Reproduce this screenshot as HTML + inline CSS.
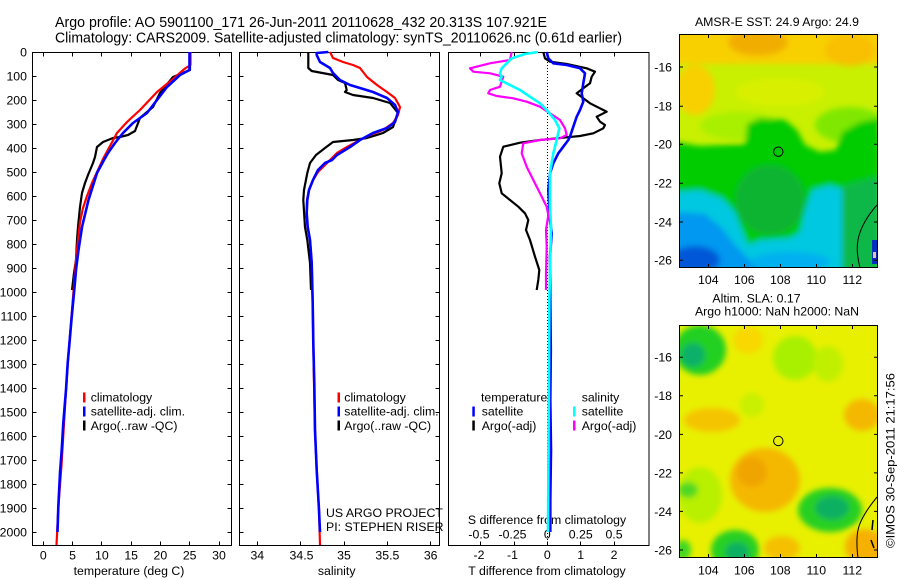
<!DOCTYPE html>
<html><head><meta charset="utf-8"><style>
html,body{margin:0;padding:0;background:#fff;}
svg{display:block;}
text{font-family:"Liberation Sans",Arial,sans-serif;fill:#000;}
</style></head><body>
<svg width="900" height="580" viewBox="0 0 900 580" xmlns="http://www.w3.org/2000/svg">
<defs>
<filter id="bl" x="-20%" y="-20%" width="140%" height="140%"><feGaussianBlur stdDeviation="3"/></filter>
<clipPath id="c1"><rect x="679.5" y="34.5" width="198" height="233"/></clipPath>
<clipPath id="c2"><rect x="679.5" y="325.5" width="198" height="232"/></clipPath>
</defs>
<rect width="900" height="580" fill="#fff"/>

<!-- Titles -->
<text x="55" y="27" font-size="14.5" textLength="492" lengthAdjust="spacingAndGlyphs">Argo profile: AO 5901100_171 26-Jun-2011 20110628_432 20.313S 107.921E</text>
<text x="55" y="42.5" font-size="14.5" textLength="567" lengthAdjust="spacingAndGlyphs">Climatology: CARS2009. Satellite-adjusted climatology: synTS_20110626.nc (0.61d earlier)</text>

<g font-size="12.3">
<!-- Depth labels -->
<g text-anchor="end">
<text x="27" y="56.4">0</text><text x="27" y="80.4">100</text><text x="27" y="104.4">200</text><text x="27" y="128.4">300</text><text x="27" y="152.4">400</text><text x="27" y="176.4">500</text><text x="27" y="200.4">600</text><text x="27" y="224.4">700</text><text x="27" y="248.4">800</text><text x="27" y="272.4">900</text><text x="27" y="296.4">1000</text><text x="27" y="320.4">1100</text><text x="27" y="344.4">1200</text><text x="27" y="368.4">1300</text><text x="27" y="392.4">1400</text><text x="27" y="416.4">1500</text><text x="27" y="440.4">1600</text><text x="27" y="464.4">1700</text><text x="27" y="488.4">1800</text><text x="27" y="512.4">1900</text><text x="27" y="536.4">2000</text>
</g>
<g text-anchor="middle">
<text x="43.3" y="559.5">0</text><text x="72.6" y="559.5">5</text><text x="101.9" y="559.5">10</text><text x="131.2" y="559.5">15</text><text x="160.4" y="559.5">20</text><text x="189.7" y="559.5">25</text><text x="219" y="559.5">30</text>
<text x="129" y="575">temperature (deg C)</text>
<text x="257.3" y="559.5">34</text><text x="301.5" y="559.5">34.5</text><text x="344" y="559.5">35</text><text x="387.4" y="559.5">35.5</text><text x="430.7" y="559.5">36</text>
<text x="336.7" y="575">salinity</text>
<text x="479" y="559">-2</text><text x="512.5" y="559">-1</text><text x="547.3" y="559">0</text><text x="580.7" y="559">1</text><text x="614" y="559">2</text>
<text x="547" y="575">T difference from climatology</text>
<text x="479" y="538.5">-0.5</text><text x="512.5" y="538.5">-0.25</text><text x="547.3" y="538.5">0</text><text x="580.7" y="538.5">0.25</text><text x="614" y="538.5">0.5</text>
<text x="547" y="524">S difference from climatology</text>
</g>
<!-- legends -->
<rect x="83" y="392.5" width="2.5" height="10" fill="#f00"/>
<rect x="83" y="406.5" width="2.5" height="10" fill="#00f"/>
<rect x="83" y="420.5" width="2.5" height="10" fill="#000"/>
<text x="90.7" y="401.5">climatology</text>
<text x="90.7" y="415.7">satellite-adj. clim.</text>
<text x="90.7" y="429.9">Argo(..raw -QC)</text>
<rect x="337.5" y="392.5" width="2.5" height="10" fill="#f00"/>
<rect x="337.5" y="406.5" width="2.5" height="10" fill="#00f"/>
<rect x="337.5" y="420.5" width="2.5" height="10" fill="#000"/>
<text x="344.3" y="401.5">climatology</text>
<text x="344.3" y="415.7">satellite-adj. clim.</text>
<text x="344.3" y="429.9">Argo(..raw -QC)</text>
<text x="326" y="517">US ARGO PROJECT</text>
<text x="326" y="531">PI: STEPHEN RISER</text>
<text x="481" y="401.5">temperature</text>
<text x="581.7" y="401.5">salinity</text>
<rect x="472.3" y="406.5" width="2.5" height="10" fill="#00f"/>
<rect x="472.3" y="420.5" width="2.5" height="10" fill="#000"/>
<text x="481.7" y="415.7">satellite</text>
<text x="481.7" y="429.9">Argo(-adj)</text>
<rect x="573" y="406.5" width="2.5" height="10" fill="#0ff"/>
<rect x="573" y="420.5" width="2.5" height="10" fill="#f0f"/>
<text x="581.7" y="415.7">satellite</text>
<text x="581.7" y="429.9">Argo(-adj)</text>
</g>

<!-- Panel frames & ticks -->
<g fill="none" stroke="#000" stroke-width="1">
<rect x="32.5" y="52.5" width="199" height="493"/>
<rect x="239.5" y="52.5" width="200" height="493"/>
<rect x="448.5" y="52.5" width="200.5" height="493"/>
<path d="M32.5 76.5h4M32.5 100.5h4M32.5 124.5h4M32.5 148.5h4M32.5 172.5h4M32.5 196.5h4M32.5 220.5h4M32.5 244.5h4M32.5 268.5h4M32.5 292.5h4M32.5 316.5h4M32.5 340.5h4M32.5 364.5h4M32.5 388.5h4M32.5 412.5h4M32.5 436.5h4M32.5 460.5h4M32.5 484.5h4M32.5 508.5h4M32.5 532.5h4"/>
<path d="M231.5 76.5h-4M231.5 100.5h-4M231.5 124.5h-4M231.5 148.5h-4M231.5 172.5h-4M231.5 196.5h-4M231.5 220.5h-4M231.5 244.5h-4M231.5 268.5h-4M231.5 292.5h-4M231.5 316.5h-4M231.5 340.5h-4M231.5 364.5h-4M231.5 388.5h-4M231.5 412.5h-4M231.5 436.5h-4M231.5 460.5h-4M231.5 484.5h-4M231.5 508.5h-4M231.5 532.5h-4"/>
<path d="M239.5 76.5h4M239.5 100.5h4M239.5 124.5h4M239.5 148.5h4M239.5 172.5h4M239.5 196.5h4M239.5 220.5h4M239.5 244.5h4M239.5 268.5h4M239.5 292.5h4M239.5 316.5h4M239.5 340.5h4M239.5 364.5h4M239.5 388.5h4M239.5 412.5h4M239.5 436.5h4M239.5 460.5h4M239.5 484.5h4M239.5 508.5h4M239.5 532.5h4"/>
<path d="M439.5 76.5h-4M439.5 100.5h-4M439.5 124.5h-4M439.5 148.5h-4M439.5 172.5h-4M439.5 196.5h-4M439.5 220.5h-4M439.5 244.5h-4M439.5 268.5h-4M439.5 292.5h-4M439.5 316.5h-4M439.5 340.5h-4M439.5 364.5h-4M439.5 388.5h-4M439.5 412.5h-4M439.5 436.5h-4M439.5 460.5h-4M439.5 484.5h-4M439.5 508.5h-4M439.5 532.5h-4"/>
<path d="M43.5 52.5v4M72.5 52.5v4M101.5 52.5v4M131.5 52.5v4M160.5 52.5v4M189.5 52.5v4M219.5 52.5v4M43.5 545.5v-4M72.5 545.5v-4M101.5 545.5v-4M131.5 545.5v-4M160.5 545.5v-4M189.5 545.5v-4M219.5 545.5v-4"/>
<path d="M257.5 52.5v4M300.5 52.5v4M344.5 52.5v4M387.5 52.5v4M430.5 52.5v4M257.5 545.5v-4M300.5 545.5v-4M344.5 545.5v-4M387.5 545.5v-4M430.5 545.5v-4"/>
<path d="M480.5 52.5v4M514.5 52.5v4M547.5 52.5v4M580.5 52.5v4M614.5 52.5v4M480.5 545.5v-4M514.5 545.5v-4M547.5 545.5v-4M580.5 545.5v-4M614.5 545.5v-4"/>
<path d="M547.5 53V545" stroke-dasharray="1,2"/>
</g>

<!-- Panel 1 curves -->
<g fill="none" stroke-width="2.2" stroke-linejoin="round">
<polyline stroke="#000" points="190,52 190,70 173,77 160,93 153,107 147,112 140,118 135,131 128,135 120,137 113,138 103,142 97,147 95,157 93,163 88,175 85,183 82,193 80,207 78,227 77,240 76,260 74,273 72,290"/>
<polyline stroke="#f00" points="190.5,52 190.5,65 185,68.5 173,79 157,92 140,110 127,122 117,133 110,146 104,157 98,170 92,183 87,196 83,208 80,222 78,240 76,260 74,285 72,310 70,335 68,360 66,390 64.5,415 63,440 61.5,465 60,485 58.5,505 57.5,525 56.5,545"/>
<polyline stroke="#00f" stroke-width="2.6" points="189.5,52 189.5,70 180,75 167,87 157,100 147,113 133,123 123,133 115,143 108,153 104,160 97,173 88.5,200 82,227 78.5,250 76,270 74,293 71.7,317 70,337 67.7,363 66,390 65,402 63.3,423 61.7,450 60,473 58.3,507 57.5,532"/>
</g>
<!-- Panel 2 curves -->
<g fill="none" stroke-width="2.2" stroke-linejoin="round">
<polyline stroke="#000" points="308.3,52 308.3,68 311.7,71 333,75 338,80 345,83 346.7,90 345,92 353,95 373,98 390,103 398,113 393,127 383,133 367,138 353,140 333,142 325,148 316,155 310,163 307.3,173 304,190 303.3,200 305,227 307.3,240 310,263 311,290"/>
<polyline stroke="#f00" points="330,52 333,58 343,62 353,65 360,68 367,77 377,85 387,92 395,98 400,107 398,115 393,123 383,130 370,135 360,140 347,147 337,153 330,160 325,165 318,172 313,180 309,190 307,200 306.5,213 307.5,227 310,240 311.7,263 312.7,303 313.3,343 314,383 315,430 316.7,470 319,510 320,545"/>
<polyline stroke="#00f" stroke-width="2.6" points="328.3,52 316.7,53 316.7,55 320,62 330,68 333,73 340,80 350,85 360,88 373,92 387,98 395,105 398,112 395,122 387,128 373,133 360,140 350,147 337,155 332,160 325,163 318,170 313,180 309,190 307.3,200 306.7,213 307.7,227 310,240 311.7,263 312.7,303 313.3,343 314.3,383 315,430 316.7,470 319,510 320,532"/>
</g>
<!-- Panel 3 curves -->
<g fill="none" stroke-width="2.2" stroke-linejoin="round">
<polyline stroke="#000" points="543.3,52 545,58.3 550,61.7 566.7,64 586.7,68.3 595,71.7 591.7,76.7 590,83.3 583.3,88.3 576.7,93.3 583.3,98.3 590,103.3 603.3,110 606.7,111.7 596.7,116.7 600,121.7 605,125 603.3,128.3 593.3,133.3 580,136 566.7,137.3 540,140 520,142.7 503.3,146.7 500,156.7 501.7,173.3 499.3,183.3 501.7,193.3 510,200 518.3,206.7 525,213.3 528.3,220 526,230 530,240 535,256.7 539.3,270 538.3,280 536.7,290"/>
<polyline stroke="#00f" stroke-width="2.6" points="546.7,52 548.3,58.3 553.3,63.3 566.7,65 580,68.3 585,73.3 583.3,83.3 581.7,93.3 583.3,101.7 580,110 576.7,116.7 573.3,126.7 570,136.7 568.3,140 563.3,146.7 558.3,153.3 553.3,163.3 550,173.3 548.3,190 550,220 551.7,233.3 550,256.7 550.3,300 550.8,350 550.3,400 551,450 550.3,500 550.3,532"/>
<polyline stroke="#f0f" points="511.7,52 510,60 490,63.3 470,68.3 473.3,71.7 490,73.3 503.3,76.7 500,86.7 490,90 488.3,93.3 496.7,96 513.3,98.3 526.7,101.7 540,106.7 550,113.3 560,120 565,128.3 566.7,135 560,138.3 540,140 523.3,143.3 521.7,153.3 526.7,166.7 533.3,180 540,193.3 546.7,206.7 548.3,215 546,230 546.7,246.7 546,273.3 546,290"/>
<polyline stroke="#0ff" stroke-width="2.6" points="538,52 525,54 511.7,58.3 506.7,63.3 501.7,68.3 500,73.3 501.7,76.7 500,80 510,85 520,90 530,96.7 540,103.3 546.7,110 555,120 559.3,128.3 556.7,140 553.3,153.3 550,173.3 550,206.7 551,226.7 550,273.3 549.3,300 548.8,400 548.3,480 548,532"/>
</g>

<!-- Map 1 -->
<g clip-path="url(#c1)">
<rect x="679" y="34" width="199" height="234" fill="#c8f000"/>
<g filter="url(#bl)">
<rect x="670" y="28" width="215" height="36" fill="#f8d000"/>
<ellipse cx="758" cy="42" rx="30" ry="14" fill="#f2ae00"/>
<ellipse cx="850" cy="50" rx="25" ry="16" fill="#f8c000"/>
<ellipse cx="695" cy="90" rx="20" ry="25" fill="#f8d000"/>
<ellipse cx="780" cy="92" rx="45" ry="14" fill="#d8f000"/>
<ellipse cx="740" cy="126" rx="40" ry="14" fill="#a8f000"/>
<ellipse cx="850" cy="125" rx="35" ry="18" fill="#80e800"/>
<polygon fill="#00cc00" points="675,142 700,146 745,144 747,124 760,118 785,120 797,130 805,145 820,152 836,150 842,132 860,122 880,118 880,272 675,272"/>
<ellipse cx="770" cy="200" rx="35" ry="35" fill="#08b430"/>
<polygon fill="#00c8e0" points="675,192 700,190 722,198 735,212 742,230 748,245 760,240 790,238 800,232 805,210 812,190 830,185 845,190 848,230 845,272 675,272"/>
<polygon fill="#10b848" points="842,186 880,176 880,272 842,272"/>
<polygon fill="#0098f0" points="675,212 705,214 722,228 735,245 748,258 760,272 675,272"/>
<ellipse cx="695" cy="260" rx="25" ry="14" fill="#0058d8"/>
<ellipse cx="790" cy="262" rx="40" ry="10" fill="#00b0f0"/>
</g>
<path d="M877,205 C868,215 860,228 858,240 C856,250 858,260 860,268" fill="none" stroke="#000" stroke-width="1"/>
<rect x="872" y="240" width="6" height="24" fill="#0030c0"/>
<rect x="873" y="252" width="3" height="6" fill="#f0c0a0"/>
</g>
<g fill="none" stroke="#000" stroke-width="1">
<rect x="679.5" y="34.5" width="198" height="233"/>
<circle cx="778.3" cy="151.7" r="4.7"/>
<path d="M708.5 34.5v3.5M744.5 34.5v3.5M780.5 34.5v3.5M816.5 34.5v3.5M852.5 34.5v3.5M708.5 267.5v-3.5M744.5 267.5v-3.5M780.5 267.5v-3.5M816.5 267.5v-3.5M852.5 267.5v-3.5"/>
<path d="M679.5 67h3.5M679.5 106.3h3.5M679.5 144.3h3.5M679.5 183.3h3.5M679.5 222h3.5M679.5 260.3h3.5M877.5 67h-3.5M877.5 106.3h-3.5M877.5 144.3h-3.5M877.5 183.3h-3.5M877.5 222h-3.5M877.5 260.3h-3.5"/>
</g>

<!-- Map 2 -->
<g clip-path="url(#c2)">
<rect x="679" y="325" width="199" height="233" fill="#e8f000"/>
<g filter="url(#bl)">
<ellipse cx="700" cy="350" rx="26" ry="25" fill="#20d020"/>
<ellipse cx="693" cy="355" rx="12" ry="12" fill="#10b068"/>
<ellipse cx="795" cy="358" rx="22" ry="22" fill="#a8f000"/>
<ellipse cx="828" cy="364" rx="15" ry="18" fill="#c0f000"/>
<ellipse cx="748" cy="340" rx="15" ry="14" fill="#f8d800"/>
<ellipse cx="712" cy="420" rx="28" ry="12" fill="#f5c400"/>
<ellipse cx="862" cy="415" rx="18" ry="16" fill="#f5b800"/>
<ellipse cx="765" cy="480" rx="35" ry="32" fill="#f5b800"/>
<ellipse cx="752" cy="472" rx="15" ry="15" fill="#f0a400"/>
<ellipse cx="782" cy="548" rx="18" ry="12" fill="#f5c000"/>
<ellipse cx="865" cy="547" rx="20" ry="18" fill="#f5b000"/>
<ellipse cx="700" cy="495" rx="22" ry="28" fill="#b8f000"/>
<ellipse cx="752" cy="405" rx="12" ry="12" fill="#c8f000"/>
<ellipse cx="688" cy="490" rx="10" ry="8" fill="#50d820"/>
<ellipse cx="830" cy="510" rx="32" ry="22" fill="#28d020"/>
<ellipse cx="832" cy="508" rx="17" ry="12" fill="#10b060"/>
<ellipse cx="735" cy="550" rx="24" ry="20" fill="#28d020"/>
<ellipse cx="737" cy="552" rx="12" ry="10" fill="#10b060"/>
<ellipse cx="683" cy="550" rx="8" ry="10" fill="#40d820"/>
</g>
<path d="M877,497 C868,508 860,520 858,530 C856,540 857,550 858,558" fill="none" stroke="#000" stroke-width="1"/>
<path d="M873,520 l-1,10 M871,540 l3,8" fill="none" stroke="#000" stroke-width="1.5"/>
</g>
<g fill="none" stroke="#000" stroke-width="1">
<rect x="679.5" y="325.5" width="198" height="232"/>
<circle cx="778.3" cy="441" r="4.7"/>
<path d="M708.5 325.5v3.5M744.5 325.5v3.5M780.5 325.5v3.5M816.5 325.5v3.5M852.5 325.5v3.5M708.5 557.5v-3.5M744.5 557.5v-3.5M780.5 557.5v-3.5M816.5 557.5v-3.5M852.5 557.5v-3.5"/>
<path d="M679.5 357.3h3.5M679.5 395.8h3.5M679.5 434.4h3.5M679.5 472.9h3.5M679.5 511.4h3.5M679.5 550h3.5M877.5 357.3h-3.5M877.5 395.8h-3.5M877.5 434.4h-3.5M877.5 472.9h-3.5M877.5 511.4h-3.5M877.5 550h-3.5"/>
</g>

<!-- Map labels -->
<g font-size="12.3">
<text x="777" y="26" text-anchor="middle">AMSR-E SST: 24.9 Argo: 24.9</text>
<text x="756.5" y="302.3" text-anchor="middle">Altim. SLA: 0.17</text>
<text x="777" y="315.7" text-anchor="middle">Argo h1000: NaN h2000: NaN</text>
<g text-anchor="middle">
<text x="708.3" y="284">104</text><text x="744.3" y="284">106</text><text x="780.3" y="284">108</text><text x="816.3" y="284">110</text><text x="852.3" y="284">112</text>
<text x="708.3" y="574.5">104</text><text x="744.3" y="574.5">106</text><text x="780.3" y="574.5">108</text><text x="816.3" y="574.5">110</text><text x="852.3" y="574.5">112</text>
</g>
<g text-anchor="end">
<text x="672" y="71.4">-16</text><text x="672" y="110.7">-18</text><text x="672" y="148.7">-20</text><text x="672" y="187.7">-22</text><text x="672" y="226.4">-24</text><text x="672" y="264.7">-26</text>
<text x="672" y="361.7">-16</text><text x="672" y="400.2">-18</text><text x="672" y="438.8">-20</text><text x="672" y="477.3">-22</text><text x="672" y="515.8">-24</text><text x="672" y="554.4">-26</text>
</g>
<text transform="translate(894.4,460.5) rotate(-90)" text-anchor="middle" textLength="175" lengthAdjust="spacingAndGlyphs">©IMOS 30-Sep-2011 21:17:56</text>
</g>
</svg>
</body></html>
